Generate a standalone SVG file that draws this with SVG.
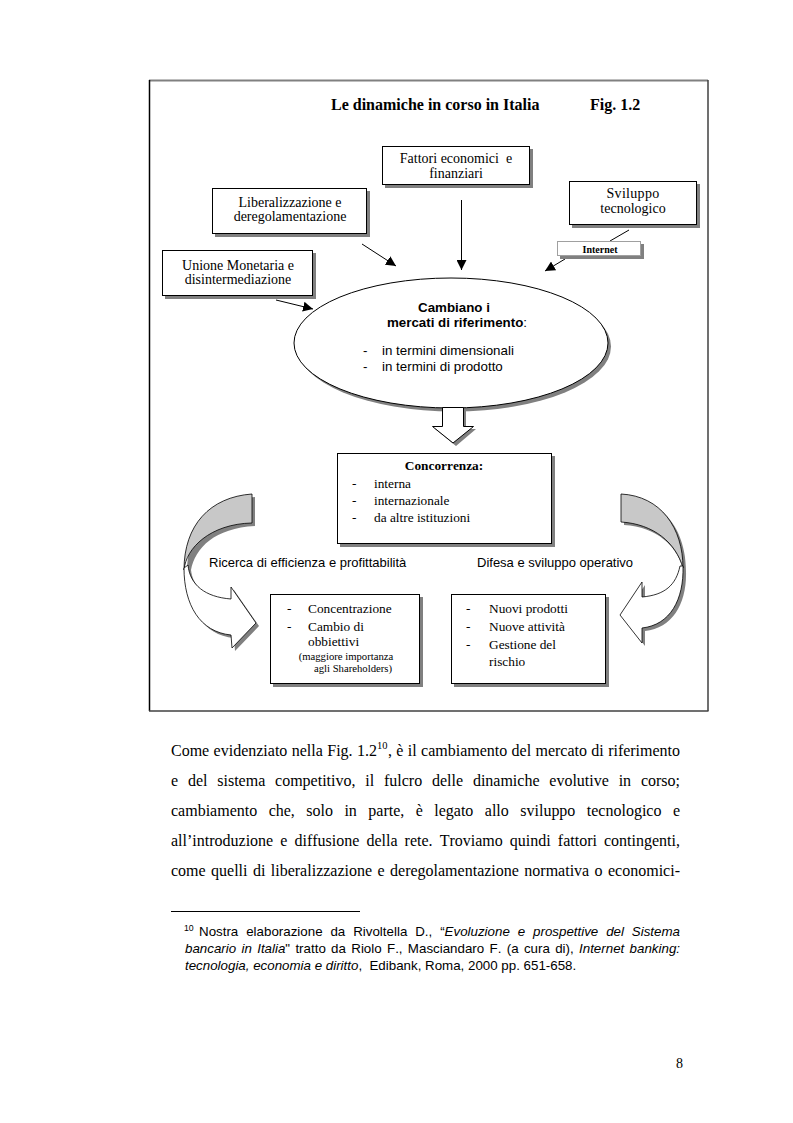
<svg xmlns="http://www.w3.org/2000/svg" width="793" height="1123" viewBox="0 0 793 1123">
<defs>
<style>
text{font-kerning:none}
.serif{font-family:"Liberation Serif","Times New Roman",serif;fill:#000}
.sans{font-family:"Liberation Sans",Arial,sans-serif;fill:#000}
.box{fill:#fff;stroke:#000;stroke-width:1}
.shadow{fill:#808080;stroke:none}
.conn{stroke:#000;stroke-width:1;fill:none}
.bt{font-size:14px}
.bt2{font-size:13.33px}
.et{font-size:13.33px}
.body{font-size:16px}
.fn{font-size:13.33px}
</style>
<marker id="ah" viewBox="0 0 10 10" refX="10" refY="5" markerWidth="10" markerHeight="10" markerUnits="userSpaceOnUse" orient="auto">
<path d="M0,0 L10,5 L0,10 Z" fill="#000"/>
</marker>
</defs>
<rect width="793" height="1123" fill="#fff"/>

<g id="frame">
<line x1="149" y1="80.5" x2="708" y2="80.5" stroke="#808080" stroke-width="2"/>
<line x1="149.5" y1="80" x2="149.5" y2="711" stroke="#000" stroke-width="1.5"/>
<line x1="708" y1="80" x2="708" y2="711" stroke="#404040" stroke-width="1.5"/>
<line x1="149" y1="711" x2="708.5" y2="711" stroke="#404040" stroke-width="1.5"/>
</g>

<g id="title">
<text class="serif" x="331" y="110" font-size="16" font-weight="bold">Le dinamiche in corso in Italia</text>
<text class="serif" x="590" y="110" font-size="16" font-weight="bold">Fig. 1.2</text>
</g>

<g id="connectors">
<line class="conn" x1="461.5" y1="200" x2="461.5" y2="270" marker-end="url(#ah)"/>
<line class="conn" x1="362" y1="244" x2="396" y2="266" marker-end="url(#ah)"/>
<line class="conn" x1="276" y1="300" x2="313" y2="309" marker-end="url(#ah)"/>
<line class="conn" x1="629" y1="230" x2="610" y2="241"/>
<line class="conn" x1="565" y1="259" x2="545" y2="271" marker-end="url(#ah)"/>
</g>

<g id="fattori">
<rect class="shadow" x="385" y="149" width="148" height="39"/>
<rect class="box" x="382.5" y="146.5" width="147" height="38"/>
<text class="serif bt" x="456" y="163" text-anchor="middle" xml:space="preserve">Fattori economici  e</text>
<text class="serif bt" x="456" y="178" text-anchor="middle">finanziari</text>
</g>

<g id="liberalizzazione">
<rect class="shadow" x="215" y="191" width="155" height="46"/>
<rect class="box" x="212.5" y="188.5" width="154" height="45"/>
<text class="serif bt" x="290" y="207" text-anchor="middle">Liberalizzazione e</text>
<text class="serif bt" x="290" y="221" text-anchor="middle">deregolamentazione</text>
</g>

<g id="unione">
<rect class="shadow" x="165" y="253" width="151" height="46"/>
<rect class="box" x="162.5" y="250.5" width="150" height="45"/>
<text class="serif bt" x="238" y="270" text-anchor="middle">Unione Monetaria e</text>
<text class="serif bt" x="238" y="284" text-anchor="middle">disintermediazione</text>
</g>

<g id="sviluppo">
<rect class="shadow" x="572" y="184" width="128" height="44"/>
<rect class="box" x="569.5" y="181.5" width="127" height="43"/>
<text class="serif bt" x="633" y="198" text-anchor="middle" letter-spacing="0.3">Sviluppo</text>
<text class="serif bt" x="633" y="213" text-anchor="middle">tecnologico</text>
</g>

<g id="internet">
<rect class="shadow" x="560" y="244" width="84" height="15"/>
<rect x="557.5" y="241.5" width="83" height="14" fill="#fff" stroke="#a0a0a0" stroke-width="1"/>
<text class="serif" x="600" y="252.5" font-size="10" font-weight="bold" text-anchor="middle">Internet</text>
</g>

<g id="mercati">
<ellipse class="shadow" cx="454" cy="346.5" rx="157" ry="65"/>
<ellipse cx="451" cy="343" rx="157" ry="65" fill="#fff" stroke="#000" stroke-width="1"/>
<text class="sans et" x="454" y="312" font-weight="bold" text-anchor="middle">Cambiano i</text>
<text class="sans et" x="457" y="327" font-weight="bold" text-anchor="middle">mercati di riferimento<tspan font-weight="normal">:</tspan></text>
<text class="sans et" x="363" y="355">-</text>
<text class="sans et" x="382" y="355">in termini dimensionali</text>
<text class="sans et" x="363" y="371">-</text>
<text class="sans et" x="382" y="371">in termini di prodotto</text>
</g>

<g id="blockarrow">
<polygon class="shadow" points="445,410 466,410 466,429 476,429 456,446 435,429 445,429"/>
<polygon points="442.5,407.5 463.5,407.5 463.5,426.5 473.5,426.5 453,443 432.5,426.5 442.5,426.5" fill="#fff" stroke="#000" stroke-width="1"/>
</g>

<g id="concorrenza">
<rect class="shadow" x="340" y="456" width="215" height="91"/>
<rect class="box" x="337.5" y="453.5" width="214" height="90"/>
<text class="serif bt2" x="444" y="470" font-weight="bold" text-anchor="middle">Concorrenza:</text>
<text class="serif bt2" x="352" y="488">-</text>
<text class="serif bt2" x="374" y="488">interna</text>
<text class="serif bt2" x="352" y="505">-</text>
<text class="serif bt2" x="374" y="505">internazionale</text>
<text class="serif bt2" x="352" y="522">-</text>
<text class="serif bt2" x="374" y="522">da altre istituzioni</text>
</g>

<g id="curve-left">
<g transform="translate(3,3)">
<path class="shadow" d="M252,494 C210,497 184,525 184,570 C184,605 200,632 231,635 L232,648 L256,623 L231,587 L231,599 C205,597 190,585 188,567 C192,545 212,525 252,523 Z"/>
</g>
<path d="M252,494 C210,497 184,525 184,570 C186,548 210,524 252,523 Z" fill="#c8c8c8" stroke="#000" stroke-width="0.8"/>
<path d="M188,565 C190,585 205,597 231,599 L231,587 L256,623 L232,648 L231,635 C200,632 184,605 184,568 Z" fill="#fff" stroke="#000" stroke-width="0.8"/>
</g>

<g id="curve-right">
<g transform="translate(3,3)">
<path class="shadow" d="M621,494 C661,496 683,528 683,568 C684,600 670,625 642,628 L642,643 L620,615 L642,582 L642,597 C665,595 676,585 680,566 C674,543 654,524 621,522 Z"/>
</g>
<path d="M621,494 C661,496 683,528 683,568 C676,543 654,524 621,522 Z" fill="#c8c8c8" stroke="#000" stroke-width="0.8"/>
<path d="M680,566 C676,585 665,595 642,597 L642,582 L620,615 L642,643 L642,628 C670,625 684,600 683,566 Z" fill="#fff" stroke="#000" stroke-width="0.8"/>
</g>

<g id="labels">
<text class="sans" x="209" y="567" font-size="13">Ricerca di efficienza e profittabilità</text>
<text class="sans" x="477" y="567" font-size="13">Difesa e sviluppo operativo</text>
</g>

<g id="box-left">
<rect class="shadow" x="273" y="597" width="150" height="90"/>
<rect class="box" x="270.5" y="594.5" width="149" height="89"/>
<text class="serif bt2" x="287" y="613">-</text>
<text class="serif bt2" x="308" y="613">Concentrazione</text>
<text class="serif bt2" x="287" y="631">-</text>
<text class="serif bt2" x="308" y="631">Cambio di</text>
<text class="serif bt2" x="308" y="646">obbiettivi</text>
<text class="serif" x="346" y="660" font-size="10.7" text-anchor="middle">(maggiore importanza</text>
<text class="serif" x="353" y="672" font-size="10.7" text-anchor="middle">agli Shareholders)</text>
</g>

<g id="box-right">
<rect class="shadow" x="454" y="597" width="155" height="90"/>
<rect class="box" x="451.5" y="594.5" width="154" height="89"/>
<text class="serif bt2" x="466" y="613">-</text>
<text class="serif bt2" x="489" y="613">Nuovi prodotti</text>
<text class="serif bt2" x="466" y="631">-</text>
<text class="serif bt2" x="489" y="631">Nuove attività</text>
<text class="serif bt2" x="466" y="649">-</text>
<text class="serif bt2" x="489" y="649">Gestione del</text>
<text class="serif bt2" x="489" y="666">rischio</text>
</g>

<g id="bodytext">
<text class="serif body" x="171" y="756" word-spacing="0.4">Come evidenziato nella Fig. 1.2</text>
<text class="serif" x="377" y="749" font-size="10.5">10</text>
<text class="serif body" x="388" y="756" word-spacing="0.4" textLength="292" lengthAdjust="spacing">, è il cambiamento del mercato di riferimento</text>
<text class="serif body" x="171" y="786" word-spacing="5.8" textLength="509" lengthAdjust="spacing">e del sistema competitivo, il fulcro delle dinamiche evolutive in corso;</text>
<text class="serif body" x="171" y="816" word-spacing="7.44" textLength="509" lengthAdjust="spacing">cambiamento che, solo in parte, è legato allo sviluppo tecnologico e</text>
<text class="serif body" x="171" y="846" word-spacing="3.08" textLength="509" lengthAdjust="spacing">all’introduzione e diffusione della rete. Troviamo quindi fattori contingenti,</text>
<text class="serif body" x="171" y="876" word-spacing="1.4" textLength="509" lengthAdjust="spacing">come quelli di liberalizzazione e deregolamentazione normativa o economici-</text>
</g>

<g id="footnote">
<line x1="171" y1="911.5" x2="360" y2="911.5" stroke="#000" stroke-width="1"/>
<text class="sans" x="184" y="931" font-size="8.7">10</text>
<text class="sans fn" x="199" y="936" word-spacing="4.2" textLength="481" lengthAdjust="spacing">Nostra elaborazione da Rivoltella D., “<tspan font-style="italic">Evoluzione e prospettive del Sistema</tspan></text>
<text class="sans fn" x="185" y="953" word-spacing="1.6" textLength="495" lengthAdjust="spacing"><tspan font-style="italic">bancario in Italia</tspan>" tratto da Riolo F., Masciandaro F. (a cura di), <tspan font-style="italic">Internet banking:</tspan></text>
<text class="sans fn" x="185" y="970" xml:space="preserve"><tspan font-style="italic">tecnologia, economia e diritto</tspan>,  Edibank, Roma, 2000 pp. 651-658.</text>
</g>

<g id="pagenum">
<text class="serif" x="676" y="1068" font-size="14">8</text>
</g>
</svg>
